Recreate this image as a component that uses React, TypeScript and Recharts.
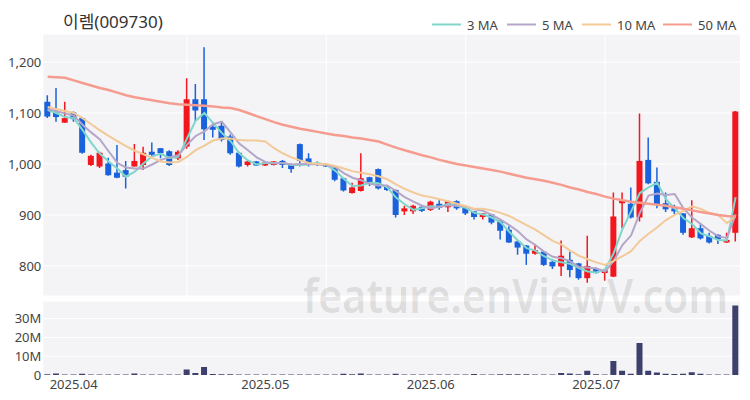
import React from "react";
import {
  Bar,
  CartesianGrid,
  ComposedChart,
  Line,
  XAxis,
  YAxis,
} from "recharts";

const MONTH_DAYS: Record<string, string[]> = {
  "04": ["01", "02", "03", "04", "07", "08", "09", "10", "11", "14", "15", "16", "17", "18", "21", "22", "23", "24", "25", "28", "29", "30"],
  "05": ["02", "07", "08", "09", "12", "13", "14", "15", "16", "19", "20", "21", "22", "23", "26", "27", "28", "29", "30"],
  "06": ["02", "04", "05", "09", "10", "11", "12", "13", "16", "17", "18", "19", "20", "23", "24", "25", "26", "27", "30"],
  "07": ["01", "02", "03", "04", "07", "08", "09", "10", "11", "14", "15", "16", "17", "18", "21", "22", "23", "24", "25", "28"],
};
const DATES: string[] = Object.keys(MONTH_DAYS).flatMap((m) =>
  MONTH_DAYS[m].map((d) => `2025-${m}-${d}`)
);

const TICK_DATES = ["2025-04-01", "2025-05-02", "2025-06-02", "2025-07-01"];
const TICK_LABELS = ["2025.04", "2025.05", "2025.06", "2025.07"];
const GRID_DATES = ["2025-04-23", "2025-05-20", "2025-06-13", "2025-07-07"];

const OPEN = [
  1122, 1101, 1081, 1101, 1090, 998, 995, 1001, 983, 988,
  995, 998, 1024, 1031, 1025, 1011, 1034, 1127, 1127, 1073,
  1075, 1054, 1022, 998, 1005, 997, 998, 1006, 999, 1039,
  1011, 1002, 999, 993, 972, 943, 947, 974, 990, 956,
  949, 907, 907, 916, 910, 922, 915, 927, 915, 907,
  896, 901, 889, 871, 848, 840, 824, 828, 808, 799,
  812, 805, 776, 795, 786, 779, 923, 922, 895, 1008,
  965, 923, 913, 903, 856, 874, 859, 861, 846, 865,
];
const HIGH = [
  1135, 1149, 1122, 1103, 1090, 1018, 1024, 1012, 1037, 1006,
  1039, 1034, 1042, 1031, 1027, 1027, 1168, 1157, 1229, 1081,
  1083, 1058, 1024, 1008, 1006, 1004, 1006, 1008, 1001, 1040,
  1021, 1005, 1000, 995, 973, 963, 1021, 975, 991, 957,
  950, 918, 920, 917, 928, 929, 929, 929, 916, 908,
  904, 902, 890, 878, 851, 841, 843, 829, 813, 850,
  828, 806, 859, 797, 793, 944, 944, 954, 1099, 1052,
  993, 944, 920, 904, 929, 884, 865, 862, 865, 1104,
];
const LOW = [
  1090, 1083, 1081, 1083, 1020, 996, 992, 977, 972, 952,
  995, 988, 1014, 1011, 996, 1008, 1030, 1083, 1047, 1052,
  1044, 1018, 993, 995, 996, 996, 997, 992, 983, 995,
  995, 996, 994, 966, 946, 942, 946, 957, 950, 947,
  895, 900, 902, 906, 908, 910, 906, 910, 900, 891,
  891, 882, 852, 845, 822, 802, 822, 800, 794, 780,
  778, 773, 767, 785, 771, 778, 874, 893, 887, 960,
  913, 906, 902, 861, 855, 852, 844, 843, 845, 848,
];
const CLOSE = [
  1093, 1092, 1090, 1088, 1022, 1016, 1022, 978, 973, 975,
  1006, 1022, 1018, 1021, 998, 1024, 1127, 1105, 1068, 1067,
  1047, 1021, 995, 1005, 997, 1003, 1005, 998, 990, 1006,
  1001, 999, 995, 969, 948, 954, 972, 962, 952, 949,
  900, 913, 918, 908, 926, 914, 927, 913, 903, 896,
  903, 885, 869, 846, 836, 824, 831, 802, 799, 820,
  792, 776, 800, 786, 792, 897, 928, 895, 1006, 962,
  920, 911, 907, 865, 874, 854, 846, 852, 851, 1103,
];
const VOLUME_M = [
  0.4, 0.8, 0.3, 0.3, 0.6, 0.3, 0.2, 0.3, 0.3, 0.3,
  0.8, 0.3, 0.2, 0.2, 0.3, 0.3, 2.9, 1.0, 4.3, 0.5,
  0.4, 0.4, 0.3, 0.2, 0.2, 0.2, 0.2, 0.2, 0.2, 0.3,
  0.2, 0.2, 0.2, 0.3, 0.6, 0.4, 0.8, 0.3, 0.2, 0.2,
  0.7, 0.2, 0.2, 0.2, 0.2, 0.2, 0.2, 0.2, 0.2, 0.5,
  0.2, 0.3, 0.4, 0.4, 0.4, 0.4, 0.3, 0.3, 0.3, 1.0,
  0.8, 0.4, 2.2, 0.4, 0.3, 7.5, 2.2, 0.7, 17.1, 2.3,
  1.3, 0.6, 0.5, 0.6, 1.5, 0.6, 0.3, 0.2, 0.3, 37.0,
];
const MA3 = [
  1106, 1100, 1092, 1090, 1067, 1042, 1020, 1005, 991, 975,
  985, 1001, 1015, 1020, 1012, 1014, 1050, 1085, 1100, 1080,
  1061, 1045, 1021, 1007, 999, 1002, 1002, 1002, 998, 998,
  999, 1002, 998, 987, 971, 957, 958, 963, 962, 954,
  934, 921, 910, 913, 917, 916, 922, 918, 914, 904,
  901, 895, 886, 867, 850, 835, 830, 819, 811, 807,
  804, 796, 789, 787, 793, 825, 872, 907, 943, 954,
  963, 931, 913, 894, 882, 864, 858, 851, 850, 935,
];
const MA5 = [
  1108, 1104, 1099, 1095, 1077, 1062, 1048, 1025, 1002, 993,
  991, 991, 999, 1008, 1013, 1017, 1038, 1055, 1064, 1078,
  1083, 1062, 1040, 1027, 1013, 1004, 1001, 1002, 999, 1000,
  1000, 999, 998, 994, 982, 973, 968, 961, 958, 958,
  947, 935, 926, 918, 913, 916, 919, 918, 917, 911,
  908, 900, 891, 880, 868, 852, 841, 828, 818, 815,
  809, 798, 797, 795, 789, 810, 841, 860, 904, 938,
  942, 939, 941, 913, 895, 882, 869, 858, 855, 901,
];
const MA10 = [
  1112, 1108, 1104, 1100, 1090, 1078, 1066, 1055, 1045, 1035,
  1026, 1019, 1012, 1005, 1003, 1004, 1014, 1027, 1036, 1046,
  1050, 1050, 1047, 1046, 1046, 1044, 1031, 1021, 1013, 1007,
  1002, 1000, 1000, 996, 991, 986, 983, 980, 976, 970,
  960, 951, 944, 938, 935, 931, 927, 922, 917, 912,
  912, 909, 904, 898, 889, 880, 871, 860, 849, 842,
  830, 820, 813, 807, 802, 810, 819, 829, 849, 863,
  876, 890, 900, 908, 917, 912, 904, 900, 884, 898,
];
const MA50 = [
  1171, 1170, 1169, 1164, 1159, 1154, 1149, 1145, 1140, 1135,
  1131, 1128, 1125, 1122, 1119, 1117, 1116, 1115, 1114, 1113,
  1111, 1110, 1106, 1100, 1094, 1088, 1082, 1077, 1073, 1069,
  1066, 1063, 1060, 1057, 1055, 1052, 1050, 1047, 1044, 1038,
  1032, 1027, 1022, 1017, 1013, 1008, 1004, 1000, 997, 994,
  991, 988, 985, 981, 977, 973, 970, 967, 963, 959,
  954, 950, 945, 941, 936, 932, 929, 926, 924, 922,
  920, 918, 915, 912, 909, 906, 903, 900, 898, 897,
];

const RED = "#f2161e";
const BLUE = "#1a62dc";
const PLOT_BG = "#f4f4f6";
const FONT = "'Noto Sans', 'Noto Sans CJK KR', sans-serif";

const MA_SERIES = [
  { key: "ma3", name: "3 MA", color: "#7fd6cb", width: 2 },
  { key: "ma5", name: "5 MA", color: "#b3a6c9", width: 2 },
  { key: "ma10", name: "10 MA", color: "#f3c998", width: 2 },
  { key: "ma50", name: "50 MA", color: "#f59c8e", width: 2.5 },
];

const rows = DATES.map((date, i) => ({
  date,
  open: OPEN[i],
  high: HIGH[i],
  low: LOW[i],
  close: CLOSE[i],
  range: [LOW[i], HIGH[i]],
  volume: VOLUME_M[i],
  ma3: MA3[i],
  ma5: MA5[i],
  ma10: MA10[i],
  ma50: MA50[i],
}));

function Candle(props: any) {
  const { x, y, width, height, payload } = props;
  if (!payload) return null;
  const { open, close, high, low } = payload;
  const color = close >= open ? RED : BLUE;
  const top = Math.min(y, y + height);
  const h = Math.abs(height);
  const ratio = high > low ? h / (high - low) : 0;
  const cx = x + width / 2;
  const bodyTop = top + (high - Math.max(open, close)) * ratio;
  const bodyH = Math.max(1.5, Math.abs(open - close) * ratio);
  return (
    <g>
      <line x1={cx} x2={cx} y1={top} y2={top + h} stroke={color} strokeWidth={1.5} />
      <rect x={cx - 3} y={bodyTop} width={6} height={bodyH} fill={color} />
    </g>
  );
}

function DateTick(props: any) {
  const { x, y, payload } = props;
  const idx = TICK_DATES.indexOf(payload.value);
  if (idx < 0) return null;
  return (
    <text x={x + 2} y={y + 14} textAnchor="start" fontSize={13} fill="#444" fontFamily={FONT}>
      {TICK_LABELS[idx]}
    </text>
  );
}

// vertical grid lines sit behind the candles, at the band centres of GRID_DATES
function gridX(args: any): number[] {
  const { xAxis, offset } = args;
  const scale = xAxis?.scale;
  if (scale && typeof scale === "function") {
    const band = typeof scale.bandwidth === "function" ? scale.bandwidth() : 0;
    const pts = GRID_DATES.map((d) => scale(d));
    if (pts.every((p: any) => typeof p === "number" && !isNaN(p))) {
      return pts.map((p: number) => p + band / 2);
    }
  }
  const step = offset.width / DATES.length;
  return GRID_DATES.map((d) => offset.left + (DATES.indexOf(d) + 0.5) * step);
}

export default function App() {
  return (
    <div
      style={{
        position: "absolute",
        left: 0,
        top: 0,
        width: 750,
        height: 400,
        background: "#fff",
        fontFamily: FONT,
      }}
    >
      <div style={{ position: "absolute", left: 0, top: 0 }}>
        <ComposedChart
          width={750}
          height={300}
          data={rows}
          margin={{ top: 34, right: 10, bottom: 4, left: 0 }}
        >
          <CartesianGrid
            fill={PLOT_BG}
            stroke="#ffffff"
            strokeWidth={1}
            verticalCoordinatesGenerator={gridX}
          />
          <XAxis dataKey="date" hide height={0} />
          <YAxis
            width={43.3}
            domain={[741, 1255]}
            ticks={[800, 900, 1000, 1100, 1200]}
            interval={0}
            allowDataOverflow
            tickLine={false}
            axisLine={false}
            tickSize={0}
            tickMargin={2}
            tick={{ fontSize: 13, fill: "#444", fontFamily: FONT }}
            tickFormatter={(v: number) => v.toLocaleString("en-US")}
          />
          <Bar dataKey="range" shape={Candle} isAnimationActive={false} barSize={6} />
          {MA_SERIES.map((s) => (
            <Line
              key={s.key}
              type="linear"
              dataKey={s.key}
              stroke={s.color}
              strokeWidth={s.width}
              dot={false}
              activeDot={false}
              isAnimationActive={false}
            />
          ))}
        </ComposedChart>
      </div>

      <div style={{ position: "absolute", left: 0, top: 300 }}>
        <ComposedChart
          width={750}
          height={100}
          data={rows}
          margin={{ top: 1, right: 10, bottom: 0, left: 0 }}
        >
          <CartesianGrid fill={PLOT_BG} stroke="#ffffff" strokeWidth={1} vertical={false} />
          <XAxis
            dataKey="date"
            height={25}
            ticks={TICK_DATES}
            interval={0}
            tickLine={false}
            axisLine={false}
            tickSize={0}
            tickMargin={0}
            tick={<DateTick />}
          />
          <YAxis
            width={43.3}
            domain={[0, 39.4]}
            ticks={[0, 10, 20, 30]}
            interval={0}
            allowDataOverflow
            tickLine={false}
            axisLine={false}
            tickSize={0}
            tickMargin={2}
            tick={{ fontSize: 13, fill: "#444", fontFamily: FONT }}
            tickFormatter={(v: number) => (v === 0 ? "0" : `${v}M`)}
          />
          <Bar dataKey="volume" fill="#3d3f6c" barSize={6} isAnimationActive={false} />
        </ComposedChart>
      </div>

      <svg
        width={750}
        height={400}
        style={{ position: "absolute", left: 0, top: 0, pointerEvents: "none" }}
      >
        <text x={63} y={28} fontSize={17} fill="#333" fontFamily={FONT}>
          이렘(009730)
        </text>
        {MA_SERIES.map((s, i) => {
          const lx = [432, 507, 582, 663][i];
          return (
            <g key={s.key}>
              <line x1={lx} x2={lx + 29} y1={24.5} y2={24.5} stroke={s.color} strokeWidth={2} />
              <text x={lx + 35} y={30} fontSize={13} fill="#444" fontFamily={FONT}>
                {s.name}
              </text>
            </g>
          );
        })}
        <text
          x={303}
          y={313}
          fontSize={46}
          fontWeight={600}
          fill="#000"
          fillOpacity={0.11}
          fontFamily={FONT}
          textLength={425}
          lengthAdjust="spacingAndGlyphs"
        >
          feature.enViewV.com
        </text>
      </svg>
    </div>
  );
}
